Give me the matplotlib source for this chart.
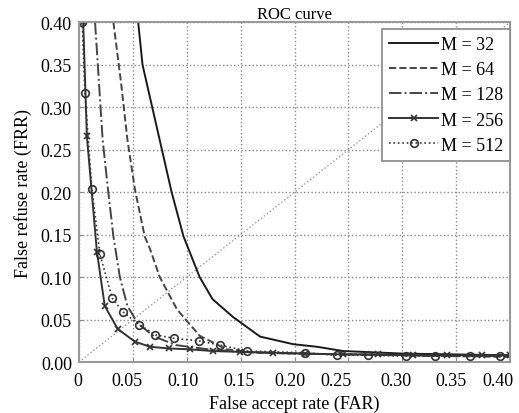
import matplotlib
matplotlib.use("Agg")
import matplotlib.pyplot as plt
import matplotlib.ticker as ticker
import matplotlib.transforms as mtransforms

plt.rcParams.update({
    "font.family": "serif",
    "font.serif": ["Liberation Serif", "DejaVu Serif"],
    "font.size": 13,
})

# ---------------------------------------------------------------------------
# Data
# ---------------------------------------------------------------------------
far_32 = [0.055, 0.059, 0.068, 0.077, 0.086, 0.097, 0.112, 0.124, 0.143,
          0.168, 0.199, 0.221, 0.245, 0.30, 0.35, 0.40]
frr_32 = [0.40, 0.35, 0.30, 0.25, 0.20, 0.148, 0.10, 0.074, 0.053,
          0.030, 0.021, 0.018, 0.013, 0.010, 0.009, 0.008]

far_64 = [0.032, 0.039, 0.045, 0.052, 0.061, 0.066, 0.075, 0.091, 0.112,
          0.137, 0.165, 0.20, 0.25, 0.30, 0.35, 0.40]
frr_64 = [0.40, 0.33, 0.262, 0.203, 0.148, 0.133, 0.100, 0.062, 0.031,
          0.015, 0.011, 0.010, 0.009, 0.008, 0.007, 0.006]

far_128 = [0.015, 0.022, 0.027, 0.032, 0.038, 0.045, 0.055, 0.070, 0.090,
           0.120, 0.150, 0.20, 0.25, 0.30, 0.35, 0.40]
frr_128 = [0.40, 0.262, 0.203, 0.148, 0.100, 0.066, 0.045, 0.030, 0.020,
           0.015, 0.012, 0.010, 0.009, 0.008, 0.007, 0.007]

far_256 = [0.004, 0.0074, 0.0167, 0.024, 0.036, 0.052, 0.066, 0.084, 0.103,
           0.124, 0.149, 0.18, 0.21, 0.245, 0.277, 0.31, 0.341, 0.374, 0.40]
frr_256 = [0.40, 0.266, 0.130, 0.066, 0.039, 0.024, 0.018, 0.016, 0.015,
           0.013, 0.012, 0.011, 0.010, 0.009, 0.009, 0.008, 0.008, 0.008, 0.008]

far_512 = [0.003, 0.0056, 0.012, 0.0195, 0.031, 0.041, 0.056, 0.071, 0.088,
           0.111, 0.131, 0.156, 0.210, 0.239, 0.268, 0.303, 0.330, 0.363, 0.391]
frr_512 = [0.40, 0.317, 0.204, 0.127, 0.075, 0.059, 0.044, 0.032, 0.028,
           0.025, 0.020, 0.013, 0.011, 0.008, 0.008, 0.007, 0.007, 0.007, 0.007]

diag = [0.0, 0.40]

x_ticks = [0, 0.05, 0.10, 0.15, 0.20, 0.25, 0.30, 0.35, 0.40]
y_ticks = [0.00, 0.05, 0.10, 0.15, 0.20, 0.25, 0.30, 0.35, 0.40]

# the source figure has its x tick labels nudged left unevenly (pixels)
X_LABEL_NUDGE = [-1, -6, -4, -2, -5, -12, -6, -5, -12]

# ---------------------------------------------------------------------------
# Plot
# ---------------------------------------------------------------------------
fig = plt.figure(figsize=(5.19, 4.14), dpi=100)
ax = fig.add_axes([0.152, 0.123, 0.831, 0.821])

ax.plot(diag, diag, ls=":", color="#999999", lw=1.0, zorder=1)

ax.plot(far_32, frr_32, "-", color="#1a1a1a", lw=1.4, label="M = 32")
ax.plot(far_64, frr_64, "--", color="#444444", lw=1.4, label="M = 64")
ax.plot(far_128, frr_128, "-.", color="#444444", lw=1.4, label="M = 128")
ax.plot(far_256, frr_256, "-", color="#333333", lw=1.4, marker="x",
        ms=4, mew=1.2, label="M = 256")
ax.plot(far_512, frr_512, ":", color="#333333", lw=1.2, marker="o",
        ms=5.5, mfc="none", mew=1.2, label="M = 512")

ax.set_xlim(0, 0.40)
ax.set_ylim(0, 0.40)
ax.set_xticks(x_ticks)
ax.set_yticks(y_ticks)
ax.xaxis.set_major_formatter(
    ticker.FuncFormatter(lambda v, p: "0" if v == 0 else f"{v:.2f}"))
ax.yaxis.set_major_formatter(ticker.FormatStrFormatter("%.2f"))
ax.tick_params(direction="in", length=3, color="#888888")
ax.tick_params(axis="x", pad=7)
ax.tick_params(axis="y", pad=5)

for lab, dx in zip(ax.get_xticklabels(), X_LABEL_NUDGE):
    lab.set_transform(lab.get_transform() +
                      mtransforms.ScaledTranslation(dx / 100, 0,
                                                    fig.dpi_scale_trans))

ax.grid(True, ls=":", color="#888888", lw=1.0)
for s in ax.spines.values():
    s.set_color("#999999")
    s.set_linewidth(1.5)

ax.set_title("ROC curve", fontsize=12, pad=2)
ax.set_xlabel("False accept rate (FAR)", labelpad=4)
ax.set_ylabel("False refuse rate (FRR)", labelpad=6)

leg = ax.legend(loc="upper right", bbox_to_anchor=(1.0, 0.98),
                borderaxespad=0, fancybox=False, framealpha=1,
                edgecolor="#888888", handlelength=2.7, handletextpad=0.15,
                labelspacing=0.45, borderpad=0.4)
leg.get_frame().set_linewidth(1.2)

fig.savefig("out.png", dpi=100)
